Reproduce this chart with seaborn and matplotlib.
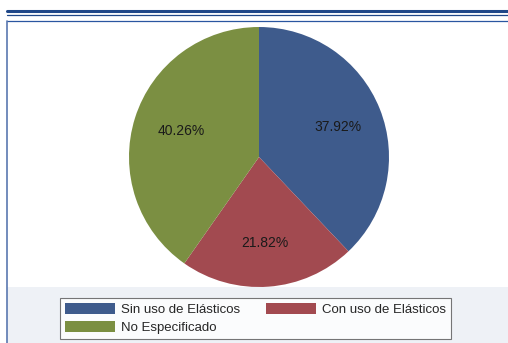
import matplotlib
matplotlib.use("Agg")
import matplotlib.pyplot as plt
import seaborn as sns
from matplotlib.patches import Patch, Rectangle
from matplotlib.lines import Line2D

sns.set_theme(style="white")
plt.rcParams["font.family"] = ["Liberation Sans", "DejaVu Sans"]

categories = ["Sin uso de Elásticos", "Con uso de Elásticos", "No Especificado"]
shares = [37.92, 21.82, 40.26]
labels = ["37.92%", "21.82%", "40.26%"]
colors = ["#3e5b8c", "#a24a50", "#7b8f42"]

fig = plt.figure(figsize=(5.08, 3.43), dpi=100)
W, H = 508, 343

def fx(px):
    return px / W

def fy(py):
    return 1 - py / H

# header rules and frame
fig.add_artist(Line2D([fx(7), 1], [fy(11), fy(11)], color="#1f4788", lw=2.2))
fig.add_artist(Line2D([fx(7), 1], [fy(15), fy(15)], color="#1f4788", lw=0.9))
fig.add_artist(Line2D([fx(7), 1], [fy(20.5), fy(20.5)], color="#2a56a0", lw=0.9))
fig.add_artist(Line2D([fx(6.5), fx(6.5)], [fy(20.5), 0], color="#5a78b0", lw=1.2))

# light band behind the legend
fig.add_artist(Rectangle((fx(7), 0), 1 - fx(7), fy(287), color="#eef1f6", lw=0, zorder=0))

ax = fig.add_axes([fx(129), fy(287), 260 / W, 260 / H])
wedges, _ = ax.pie(shares, colors=colors, startangle=90, counterclock=False,
                   radius=1, wedgeprops=dict(linewidth=0))
ax.set_xlim(-1, 1)
ax.set_ylim(-1, 1)
ax.set_aspect("equal")
ax.axis("off")

label_pos = [(0.61, 0.23), (0.045, -0.66), (-0.6, 0.2)]
for (x, y), t in zip(label_pos, labels):
    ax.text(x, y, t, ha="center", va="center", fontsize=10, color="#1a1a1a")

# legend filled column-wise: two entries on the first row, one on the second
order = [0, 2, 1]
handles = [Patch(facecolor=colors[i], edgecolor="none") for i in order]
names = [categories[i] for i in order]
leg = fig.legend(handles, names, ncol=2, loc="upper left",
                 bbox_to_anchor=(fx(60), fy(297.5)),
                 fontsize=9.5, handlelength=3.8, handleheight=0.95,
                 handletextpad=0.45, labelspacing=0.35, borderpad=0.4,
                 columnspacing=1.9, borderaxespad=0, fancybox=False, frameon=True)
leg.get_frame().set_edgecolor("#555555")
leg.get_frame().set_linewidth(0.8)
leg.get_frame().set_facecolor("white")

fig.savefig("out.png", dpi=100)
